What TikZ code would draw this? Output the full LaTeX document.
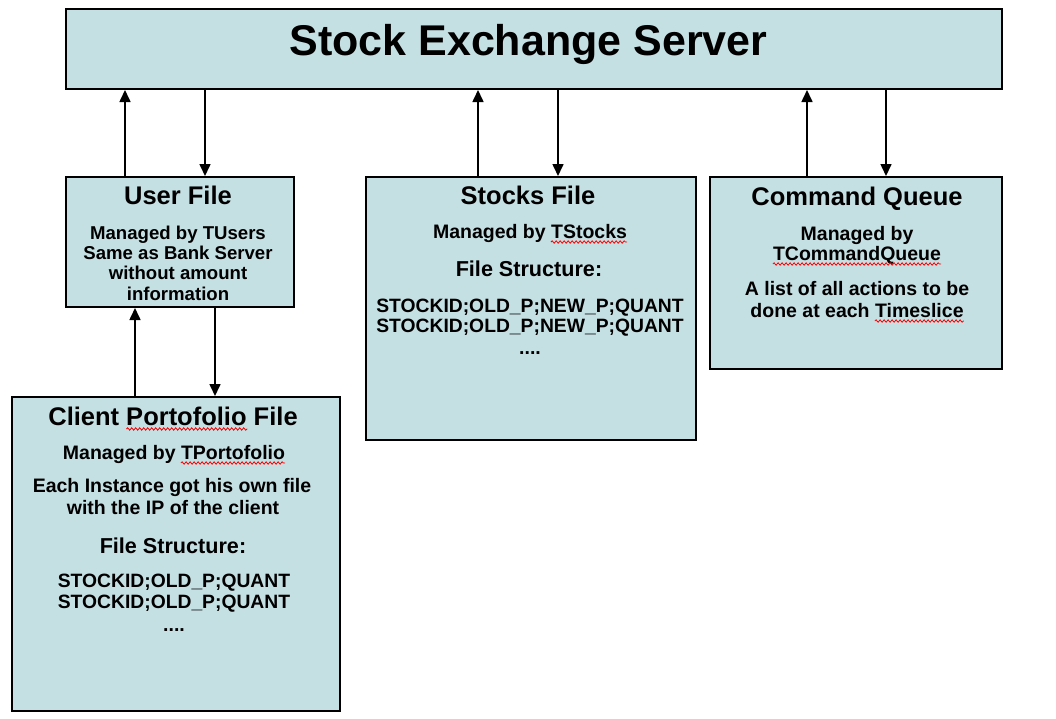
\documentclass[tikz,border=0pt]{standalone}
\usepackage{fontspec}
\setmainfont{Liberation Sans}
\usetikzlibrary{arrows.meta,calc,decorations.pathmorphing}
\definecolor{boxfill}{RGB}{197,224,227}
\begin{document}
\begin{tikzpicture}[x=1pt,y=-1pt,
  box/.style={draw, line width=2pt, fill=boxfill, inner sep=0pt, anchor=north west},
  arr/.style={-{Triangle[length=12pt,width=11pt]}, line width=1.6pt},
  title/.style={font=\fontsize{43}{50}\selectfont\bfseries, anchor=base, inner sep=0pt},
  head/.style={font=\fontsize{25.5}{30}\selectfont\bfseries, anchor=base, inner sep=0pt},
  body/.style={font=\fontsize{19.5}{22}\selectfont\bfseries, anchor=base, inner sep=0pt},
  ubody/.style={font=\fontsize{18.6}{21}\selectfont\bfseries, anchor=base, inner sep=0pt},
  fstruct/.style={font=\fontsize{21.6}{25}\selectfont\bfseries, anchor=base, inner sep=0pt},
  rec/.style={font=\fontsize{19.3}{22}\selectfont\bfseries, anchor=base, inner sep=0pt},
  squig/.style={draw=red, line width=0.8pt, decorate, decoration={snake, amplitude=1.2pt, segment length=4pt}}]
\useasboundingbox (0,0) rectangle (1056,718);
% boxes
\node[box, minimum width=936pt, minimum height=80pt] (srv) at (65,8) {};
\node[box, minimum width=228pt, minimum height=130pt] (user) at (65,176) {};
\node[box, minimum width=330pt, minimum height=263pt] (stocks) at (365,176) {};
\node[box, minimum width=292pt, minimum height=192pt] (cmd) at (709,176) {};
\node[box, minimum width=328pt, minimum height=314pt] (client) at (11,396) {};
% title
\node[title] (t0) at (528.5,55) {Stock Exchange Server};
% user file
\node[head] (uh) at (178,204) {User File};
\node[ubody] (u1) at (178,239) {Managed by TUsers};
\node[ubody] (u2) at (178,259) {Same as Bank Server};
\node[ubody] (u3) at (178,279) {without amount};
\node[ubody] (u4) at (178,300) {information};
% stocks file
\node[head] (sh) at (528,204) {Stocks File};
\node[body] (s1) at (530,238) {Managed by TStocks};
\node[fstruct] (s2) at (529,276) {File Structure:};
\node[rec] (s3) at (530,312) {STOCKID;OLD\_P;NEW\_P;QUANT};
\node[rec] (s4) at (530,332) {STOCKID;OLD\_P;NEW\_P;QUANT};
\node[body] (s5) at (530,354) {....};
% command queue
\node[head] (ch) at (857,205) {Command Queue};
\node[body] (c1) at (857,240) {Managed by};
\node[body] (c2) at (857,260) {TCommandQueue};
\node[body] (c3) at (857,295) {A list of all actions to be};
\node[body] (c4) at (857,317) {done at each Timeslice};
% client portofolio
\node[head] (kh) at (173,425) {Client Portofolio File};
\node[body] (k1) at (174,459) {Managed by TPortofolio};
\node[body] (k2) at (172,492) {Each Instance got his own file};
\node[body] (k3) at (173,514) {with the IP of the client};
\node[fstruct] (k4) at (173,553) {File Structure:};
\node[rec] (k5) at (174,587) {STOCKID;OLD\_P;QUANT};
\node[rec] (k6) at (174,608) {STOCKID;OLD\_P;QUANT};
\node[body] (k7) at (174,631) {....};
% spell-check marks (invisible measuring boxes)
\node[body, anchor=base east] (w1) at (s1.base east) {\phantom{TStocks}};
\node[body, anchor=base east] (w2) at (c2.base east) {\phantom{TCommandQueue}};
\node[body, anchor=base east] (w3) at (c4.base east) {\phantom{Timeslice}};
\node[body, anchor=base east] (w4) at (k1.base east) {\phantom{TPortofolio}};
\node[head, anchor=base west] (w5a) at (kh.base west) {\phantom{Client }};
\node[head, anchor=base west] (w5) at (w5a.base east) {\phantom{Portofolio}};
\foreach \w in {w1,w2,w3,w4,w5}
  \draw[squig] ($(\w.base west)+(0,4)$) -- ($(\w.base east)+(0,4)$);
% connectors
\coordinate (a1) at ($(user.north west)+(60,0)$);
\coordinate (a2) at ($(srv.south west)+(140,0)$);
\coordinate (a3) at ($(stocks.north west)+(113,0)$);
\coordinate (a4) at ($(srv.south west)+(493,0)$);
\coordinate (a5) at ($(cmd.north west)+(98,0)$);
\coordinate (a6) at ($(srv.south west)+(821,0)$);
\coordinate (a7) at ($(client.north west)+(124,0)$);
\coordinate (a8) at ($(user.south west)+(150,0)$);
\draw[arr] (a1) -- (a1 |- srv.south);
\draw[arr] (a2) -- (a2 |- user.north);
\draw[arr] (a3) -- (a3 |- srv.south);
\draw[arr] (a4) -- (a4 |- stocks.north);
\draw[arr] (a5) -- (a5 |- srv.south);
\draw[arr] (a6) -- (a6 |- cmd.north);
\draw[arr] (a7) -- (a7 |- user.south);
\draw[arr] (a8) -- (a8 |- client.north);
\end{tikzpicture}
\end{document}
